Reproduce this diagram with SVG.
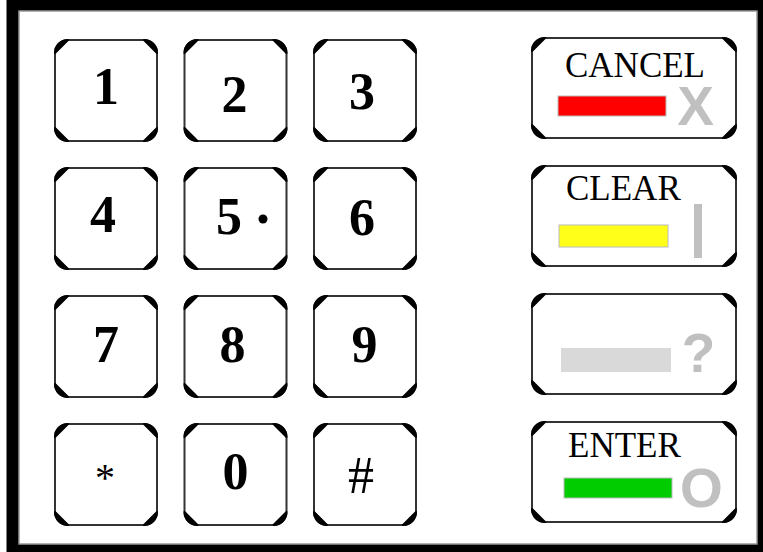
<svg xmlns="http://www.w3.org/2000/svg" xmlns:xlink="http://www.w3.org/1999/xlink" width="763" height="552" viewBox="0 0 763 552">
<style>
.edge{fill:#fff;stroke:#333;stroke-width:2}
.corner{fill:#000;stroke:#000;stroke-width:2;stroke-linejoin:round}
.dig{font-family:"Liberation Serif","Times New Roman",serif;font-weight:bold;font-size:52px;fill:#000;text-anchor:middle}
.sym{font-family:"Liberation Serif","Times New Roman",serif;fill:#000;text-anchor:middle}
.lbl{font-family:"Liberation Serif","Times New Roman",serif;font-size:35px;fill:#000}
.ico{font-family:"Liberation Sans",Arial,sans-serif;font-weight:bold;font-size:55px;fill:#c0c0c0;text-anchor:middle}
.bar{stroke:#bbb;stroke-width:1}
</style>
<defs>
<g id="key">
<rect class="edge" x="0" y="0" width="102" height="101" rx="13"/>
<path class="corner" d="M0,13 A13,13 0 0 1 13,0 Z M89,0 A13,13 0 0 1 102,13 Z M102,88 A13,13 0 0 1 89,101 Z M13,101 A13,13 0 0 1 0,88 Z"/>
</g>
<g id="bigkey">
<rect class="edge" x="0" y="0" width="204" height="100" rx="13"/>
<path class="corner" d="M0,13 A13,13 0 0 1 13,0 Z M191,0 A13,13 0 0 1 204,13 Z M204,87 A13,13 0 0 1 191,100 Z M13,100 A13,13 0 0 1 0,87 Z"/>
</g>
</defs>
<rect x="0" y="0" width="763" height="552" fill="#fff"/>
<rect x="6.5" y="0" width="756.5" height="552" fill="#000"/>
<rect x="19" y="11" width="738" height="533" fill="#fff" stroke="#999" stroke-width="1.5"/>
<g id="connectors"/>
<g id="k1"><use xlink:href="#key" x="55" y="40"/><text class="dig" x="106" y="104">1</text></g>
<g id="k2"><use xlink:href="#key" x="184.5" y="40"/><text class="dig" x="234.5" y="112">2</text></g>
<g id="k3"><use xlink:href="#key" x="314" y="40"/><text class="dig" x="362" y="109">3</text></g>
<g id="k4"><use xlink:href="#key" x="55" y="168"/><text class="dig" x="103" y="232">4</text></g>
<g id="k5"><use xlink:href="#key" x="184.5" y="168"/><text class="dig" x="229" y="234">5</text><circle cx="263" cy="219" r="4.5" fill="#000"/></g>
<g id="k6"><use xlink:href="#key" x="314" y="168"/><text class="dig" x="362" y="235">6</text></g>
<g id="k7"><use xlink:href="#key" x="55" y="296"/><text class="dig" x="106" y="362">7</text></g>
<g id="k8"><use xlink:href="#key" x="184.5" y="296"/><text class="dig" x="232.5" y="362">8</text></g>
<g id="k9"><use xlink:href="#key" x="314" y="296"/><text class="dig" x="364.5" y="362">9</text></g>
<g id="kstar"><use xlink:href="#key" x="55" y="424"/><text class="sym" x="105" y="491" font-size="40">*</text></g>
<g id="k0"><use xlink:href="#key" x="184.5" y="424"/><text class="dig" x="235.5" y="489">0</text></g>
<g id="khash"><use xlink:href="#key" x="314" y="424"/><text class="sym" x="361" y="493" font-size="52">#</text></g>
<g id="cancel"><use xlink:href="#bigkey" x="532" y="38"/><text class="lbl" x="565" y="77">CANCEL</text><rect class="bar" x="558" y="96" width="108" height="20" fill="#ff0000"/><text class="ico" x="695.5" y="125">X</text></g>
<g id="clear"><use xlink:href="#bigkey" x="532" y="166"/><text class="lbl" x="566" y="200">CLEAR</text><rect class="bar" x="559" y="225" width="109" height="22" fill="#ffff1a"/><rect x="694" y="204" width="8" height="54" fill="#c0c0c0"/></g>
<g id="blank"><use xlink:href="#bigkey" x="532" y="294"/><rect x="561" y="348" width="110" height="24" fill="#d9d9d9"/><text class="ico" x="698.5" y="372">?</text></g>
<g id="enter"><use xlink:href="#bigkey" x="532" y="422"/><text class="lbl" x="568" y="457">ENTER</text><rect class="bar" x="564" y="478" width="108" height="20" fill="#00cc00"/><text class="ico" x="701.5" y="507">O</text></g>
</svg>
